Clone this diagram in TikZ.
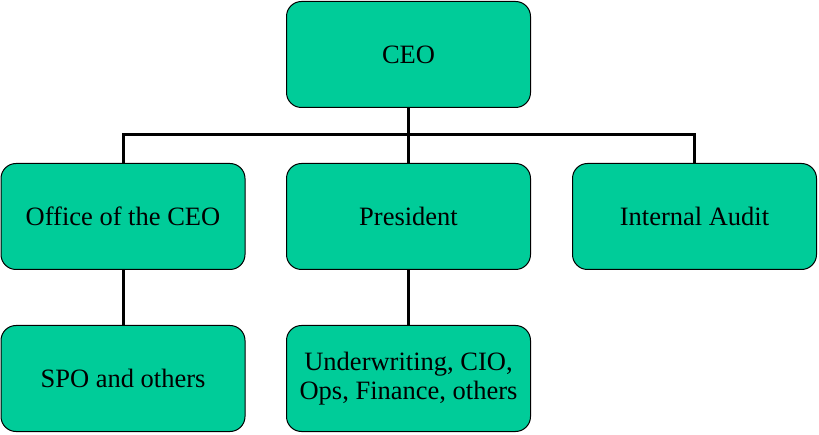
\documentclass[tikz,border=0pt]{standalone}
\usepackage{fontspec}
\setmainfont{Liberation Serif}
\newfontfamily\timesfont{Liberation Serif}
\definecolor{boxgreen}{HTML}{00CC99}
\begin{document}
\begin{tikzpicture}[x=1pt,y=-1pt,
  orgbox/.style={draw=black,line width=1pt,fill=boxgreen,rounded corners=15pt,
    minimum width=244pt,minimum height=106pt,inner sep=0pt,align=center,
    font=\timesfont\fontsize{26.5}{29}\selectfont},
  link/.style={line width=3pt}]
\useasboundingbox (0,0) rectangle (819,435);
\node[orgbox] (ceo) at (408.5,54.5) {CEO};
\node[orgbox] (office) at (123,216.5) {Office of the CEO};
\node[orgbox] (pres) at (408.5,216.5) {President};
\node[orgbox] (audit) at (694.5,216.5) {Internal Audit};
\node[orgbox] (spo) at (123,378.5) {SPO and others};
\node[orgbox] (uw) at (408.5,378.5) {Underwriting, CIO,\\Ops, Finance, others};
\coordinate (bus) at (408.5,135);
\draw[link] (ceo.south) -- (pres.north);
\draw[link] (office.north) |- (bus) -| (audit.north);
\draw[link] (office.south) -- (spo.north);
\draw[link] (pres.south) -- (uw.north);
\end{tikzpicture}
\end{document}
